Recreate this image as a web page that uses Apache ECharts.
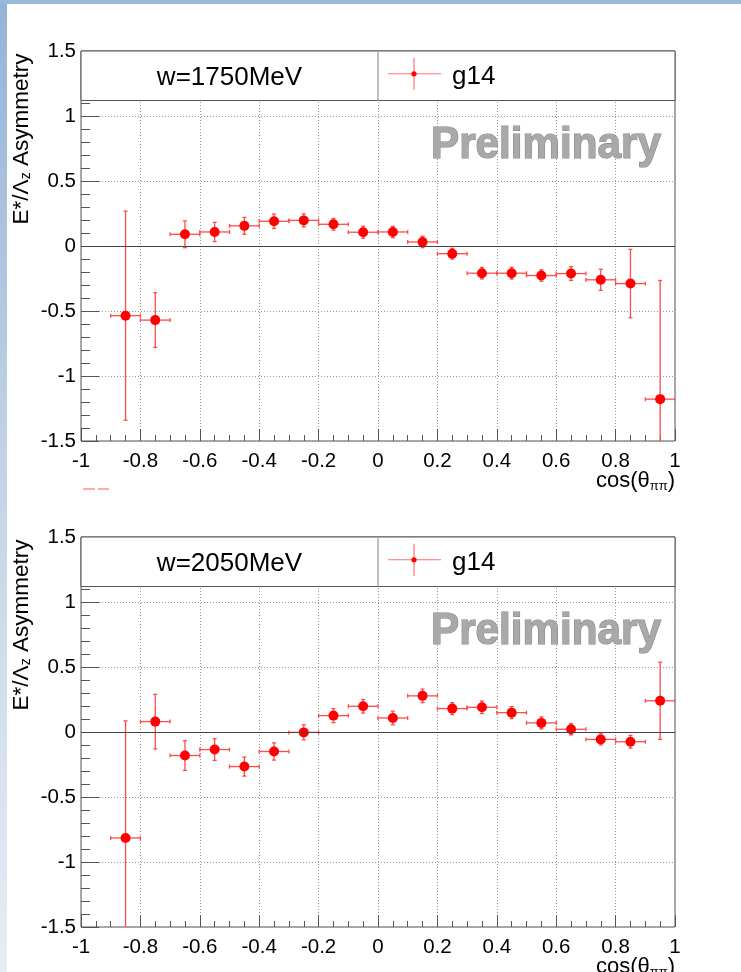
<!DOCTYPE html>
<html>
<head>
<meta charset="utf-8">
<title>E*/Λz asymmetry vs cos(θππ)</title>
<script src="https://cdn.jsdelivr.net/npm/echarts@6/dist/echarts.min.js"></script>
<style>
  html, body { margin: 0; padding: 0; background: #fff; }
  #chart { width: 741px; height: 972px; }
</style>
</head>
<body>
<div id="chart"></div>
<script>
// Bin centres in cos(theta_pipi); each bin is 0.1 wide
const cosBins = [-0.85, -0.75, -0.65, -0.55, -0.45, -0.35, -0.25, -0.15, -0.05,
                 0.05, 0.15, 0.25, 0.35, 0.45, 0.55, 0.65, 0.75, 0.85, 0.95];
const binHalfWidth = 0.05;

// W = 1750 MeV
const w1750Asym = [-0.536, -0.570, 0.090, 0.108, 0.155, 0.190, 0.197, 0.167, 0.106,
                   0.108, 0.031, -0.059, -0.209, -0.209, -0.227, -0.212, -0.260, -0.289, -1.178];
const w1750Err  = [0.804, 0.210, 0.103, 0.074, 0.065, 0.055, 0.050, 0.045, 0.046,
                   0.044, 0.044, 0.041, 0.044, 0.045, 0.044, 0.053, 0.081, 0.263, 0.913];

// W = 2050 MeV
const w2050Asym = [-0.815, 0.080, -0.181, -0.135, -0.266, -0.150, -0.003, 0.126, 0.198,
                   0.108, 0.278, 0.180, 0.190, 0.149, 0.070, 0.021, -0.057, -0.075, 0.240];
const w2050Err  = [0.900, 0.210, 0.114, 0.084, 0.073, 0.066, 0.058, 0.054, 0.052,
                   0.052, 0.052, 0.046, 0.048, 0.046, 0.046, 0.043, 0.043, 0.049, 0.297];

const panelTitles = ['w=1750MeV', 'w=2050MeV'];
const legendName = 'g14';

const xTickLabels = ['-1', '-0.8', '-0.6', '-0.4', '-0.2', '0', '0.2', '0.4', '0.6', '0.8', '1'];
const yTickLabels = ['-1.5', '-1', '-0.5', '0', '0.5', '1', '1.5'];

// ---- layout ----
const FONT = '"Liberation Sans", Arial, Helvetica, sans-serif';
const gridLeft = 81, gridWidth = 594, gridHeight = 390;
const gridTops = [51, 537];
const Y_MIN = -1.5, Y_MAX = 1.5;
const legendBoxH = 49.5;
const RED = '#ff0000';
const BAR = '#ff4a4a';
const FRAME = '#555';

const chart = echarts.init(document.getElementById('chart'), null, { renderer: 'canvas' });

function labelFrom(list) {
  return function (v) {
    const s = String(+v.toFixed(2));
    return list.indexOf(s) >= 0 ? s : '';
  };
}

function errorBars(params, api) {
  const x = api.value(0), y = api.value(1), e = api.value(2);
  const hiV = Math.min(y + e, Y_MAX), loV = Math.max(y - e, Y_MIN);
  const top = api.coord([x, hiV]);
  const bot = api.coord([x, loV]);
  const left = api.coord([x - binHalfWidth, y]);
  const right = api.coord([x + binHalfWidth, y]);
  const st = { stroke: BAR, lineWidth: 1.3 };
  const cap = 2;
  const kids = [
    { type: 'line', shape: { x1: top[0], y1: top[1], x2: bot[0], y2: bot[1] }, style: st },
    { type: 'line', shape: { x1: left[0], y1: left[1], x2: right[0], y2: right[1] }, style: st },
    { type: 'line', shape: { x1: left[0], y1: left[1] - cap, x2: left[0], y2: left[1] + cap }, style: st },
    { type: 'line', shape: { x1: right[0], y1: right[1] - cap, x2: right[0], y2: right[1] + cap }, style: st }
  ];
  if (y + e <= Y_MAX) kids.push({ type: 'line', shape: { x1: top[0] - cap, y1: top[1], x2: top[0] + cap, y2: top[1] }, style: st });
  if (y - e >= Y_MIN) kids.push({ type: 'line', shape: { x1: bot[0] - cap, y1: bot[1], x2: bot[0] + cap, y2: bot[1] }, style: st });
  return { type: 'group', children: kids };
}

const grids = [], xAxes = [], yAxes = [], series = [], graphics = [];

// left / top page decoration strips
graphics.push({
  type: 'rect', z: 1, shape: { x: 0, y: 0, width: 7, height: 972 },
  style: { fill: new echarts.graphic.LinearGradient(0, 0, 0, 1, [
    { offset: 0, color: '#94b4d8' }, { offset: 0.5, color: '#c4d4e6' }, { offset: 1, color: '#e6edf5' }]) }
});
graphics.push({ type: 'rect', z: 1, shape: { x: 0, y: 0, width: 741, height: 4 }, style: { fill: '#9ab8d8' } });

const panels = [
  { asym: w1750Asym, err: w1750Err, title: panelTitles[0] },
  { asym: w2050Asym, err: w2050Err, title: panelTitles[1] }
];

panels.forEach(function (p, i) {
  const gt = gridTops[i];
  grids.push({ left: gridLeft, top: gt, width: gridWidth, height: gridHeight,
               show: true, borderColor: FRAME, borderWidth: 1, backgroundColor: 'transparent' });
  xAxes.push({
    gridIndex: i, type: 'value', min: -1, max: 1, interval: 0.2, position: 'bottom',
    axisLine: { show: false, onZero: false },
    axisTick: { show: true, inside: true, length: 12, lineStyle: { color: FRAME } },
    minorTick: { show: true, splitNumber: 4, length: 6, lineStyle: { color: FRAME } },
    splitLine: { show: true, lineStyle: { color: '#9a9a9a', type: [1, 2], width: 1 } },
    axisLabel: { color: '#000', fontSize: 20.5, fontFamily: FONT, margin: 10, formatter: labelFrom(xTickLabels),
                 showMinLabel: true, showMaxLabel: true }
  });
  yAxes.push({
    gridIndex: i, type: 'value', min: Y_MIN, max: Y_MAX, interval: 0.5, position: 'left',
    axisLine: { show: false, onZero: false },
    axisTick: { show: true, inside: true, length: 18, lineStyle: { color: FRAME } },
    minorTick: { show: true, splitNumber: 5, length: 9, lineStyle: { color: FRAME } },
    splitLine: { show: true, lineStyle: { color: '#9a9a9a', type: [1, 2], width: 1 } },
    axisLabel: { color: '#000', fontSize: 20.5, fontFamily: FONT, margin: 5, formatter: labelFrom(yTickLabels),
                 showMinLabel: true, showMaxLabel: true }
  });

  const pts = cosBins.map(function (x, k) { return [x, p.asym[k]]; });
  const bars = cosBins.map(function (x, k) { return [x, p.asym[k], p.err[k]]; });

  series.push({
    type: 'custom', name: legendName + '_err' + i, xAxisIndex: i, yAxisIndex: i,
    renderItem: errorBars, data: bars, z: 3, silent: true, clip: true,
    encode: { x: 0, y: 1 }
  });
  series.push({
    type: 'scatter', name: legendName, xAxisIndex: i, yAxisIndex: i,
    data: pts, symbol: 'circle', symbolSize: 10, z: 4, silent: true,
    itemStyle: { color: RED, opacity: 1 },
    markLine: {
      silent: true, symbol: 'none', label: { show: false },
      lineStyle: { color: '#444', type: 'solid', width: 1 },
      data: [{ yAxis: 0 }]
    }
  });

  // legend panel across the top of the frame
  const midX = gridLeft + gridWidth / 2;
  const cy = gt + legendBoxH / 2;
  graphics.push({ type: 'rect', z: 10, shape: { x: gridLeft, y: gt, width: gridWidth, height: legendBoxH },
                  style: { fill: '#fff', stroke: FRAME, lineWidth: 1 } });
  graphics.push({ type: 'line', z: 11, shape: { x1: midX, y1: gt, x2: midX, y2: gt + legendBoxH },
                  style: { stroke: '#aaa', lineWidth: 1.5 } });
  graphics.push({ type: 'text', z: 11, x: (gridLeft + midX) / 2, y: cy + 2,
                  style: { text: p.title, font: '26px ' + FONT, fill: '#000', align: 'center', verticalAlign: 'middle' } });
  const mx = midX + 36;
  graphics.push({ type: 'line', z: 11, shape: { x1: mx - 26, y1: cy - 2, x2: mx + 27, y2: cy - 2 },
                  style: { stroke: '#ff7070', lineWidth: 1.2 } });
  graphics.push({ type: 'line', z: 11, shape: { x1: mx, y1: cy - 18, x2: mx, y2: cy + 14 },
                  style: { stroke: '#ff7070', lineWidth: 1.2 } });
  graphics.push({ type: 'circle', z: 12, shape: { cx: mx, cy: cy - 2, r: 2.6 }, style: { fill: RED } });
  graphics.push({ type: 'text', z: 11, x: mx + 38, y: cy + 1,
                  style: { text: legendName, font: '26px ' + FONT, fill: '#000', align: 'left', verticalAlign: 'middle' } });

  // watermark
  graphics.push({ type: 'text', z: 9, x: 546, y: gt + 95, scaleX: 0.96,
                  style: { text: 'Preliminary', font: 'bold 44px ' + FONT,
                           fill: '#a9a9a9', stroke: '#858585', lineWidth: 1.2,
                           align: 'center', verticalAlign: 'middle' } });

  // axis titles
  graphics.push({ type: 'text', z: 11, x: 22, y: gt + 88, rotation: Math.PI / 2,
                  style: { text: 'E*/Λ{sub|z} Asymmetry', font: '22.5px ' + FONT, fill: '#000',
                           align: 'center', verticalAlign: 'middle',
                           rich: { sub: { fontSize: 14, fontFamily: FONT, verticalAlign: 'bottom', padding: [9, 0, 0, 0] } } } });
  graphics.push({ type: 'text', z: 11, x: gridLeft + gridWidth, y: gt + 430,
                  style: { text: 'cos(θ{sub|ππ})', font: '22px ' + FONT, fill: '#000',
                           align: 'right', verticalAlign: 'middle',
                           rich: { sub: { fontSize: 13, fontFamily: FONT, padding: [10, 0, 0, 0] } } } });
});

// stray marks beneath the upper panel
graphics.push({ type: 'line', z: 11, shape: { x1: 83, y1: 489, x2: 95, y2: 489 }, style: { stroke: '#ff9090', lineWidth: 1.5 } });
graphics.push({ type: 'line', z: 11, shape: { x1: 98, y1: 489, x2: 109, y2: 489 }, style: { stroke: '#ff9090', lineWidth: 1.5 } });

chart.setOption({
  animation: false,
  backgroundColor: '#fff',
  grid: grids,
  xAxis: xAxes,
  yAxis: yAxes,
  series: series,
  graphic: { elements: graphics }
});
</script>
</body>
</html>
